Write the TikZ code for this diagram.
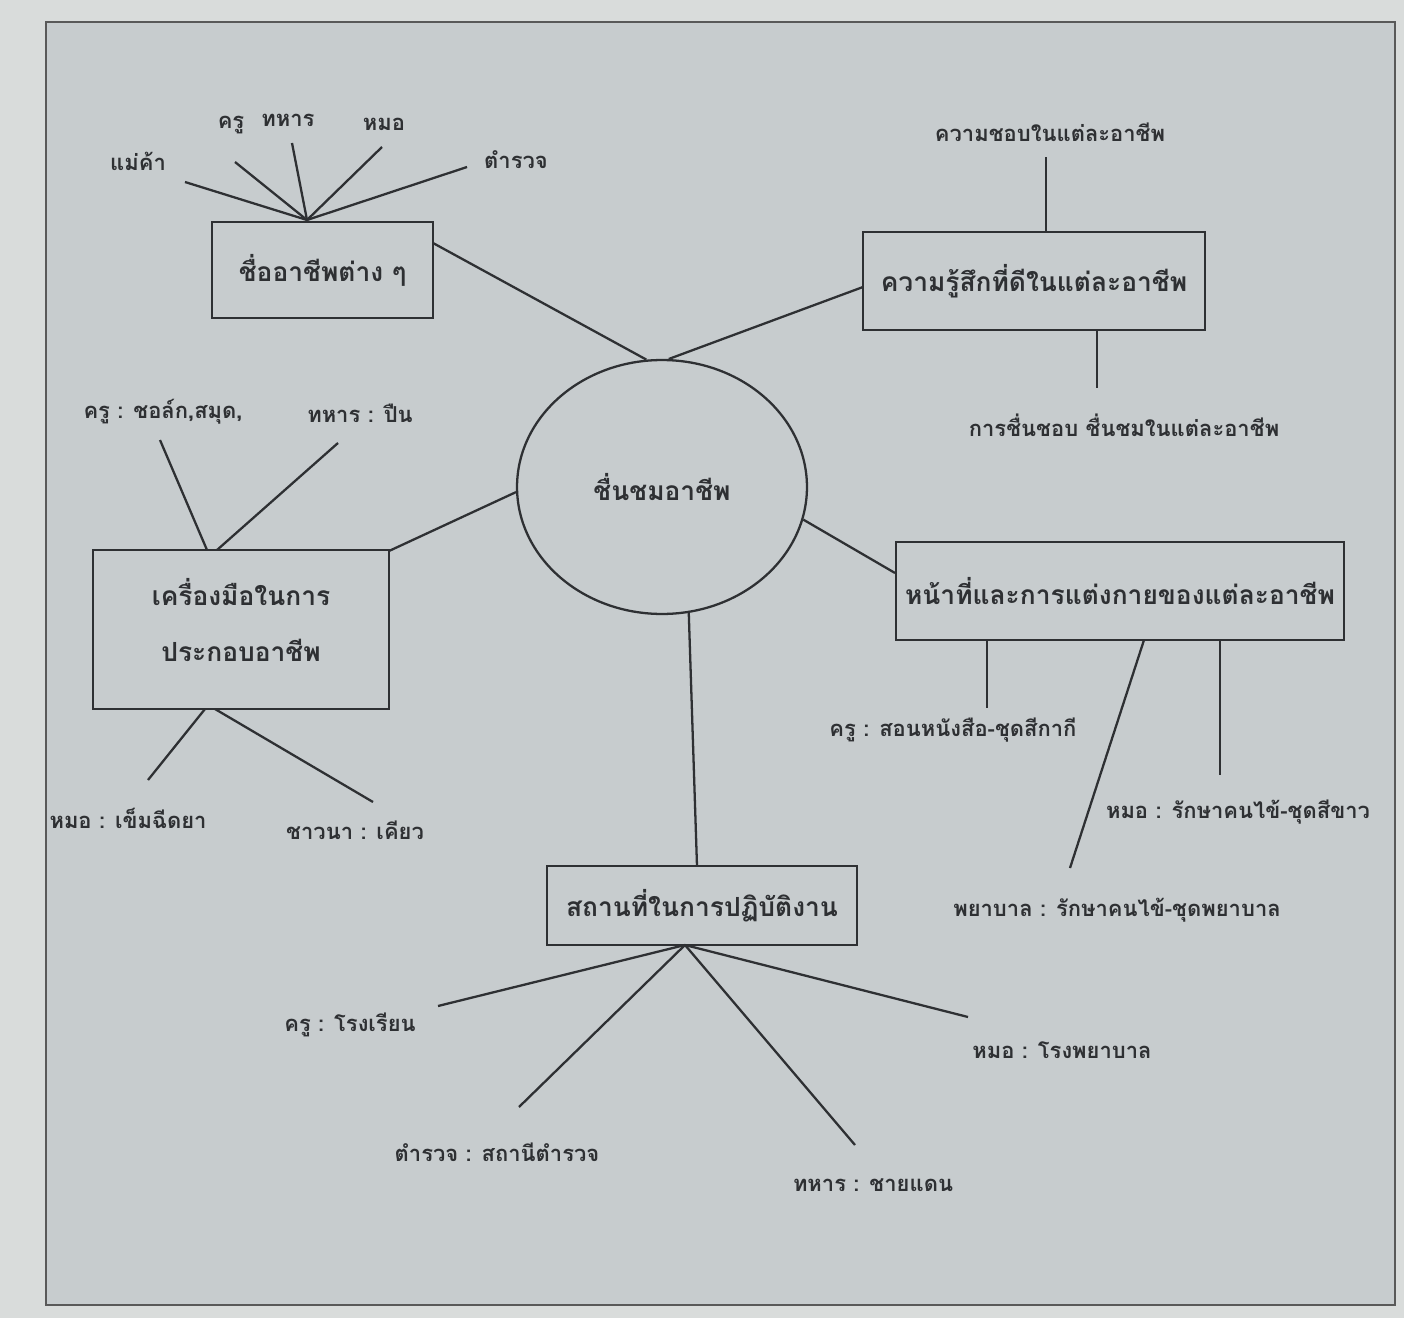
\documentclass[tikz,border=0pt]{standalone}
\usepackage{fontspec}
\newfontfamily\thai[Script=Thai]{Loma}
\usetikzlibrary{shapes.geometric}
\definecolor{paper}{HTML}{C7CCCE}
\definecolor{margin}{HTML}{D9DCDB}
\definecolor{ink}{HTML}{2E3033}
\begin{document}
\begin{tikzpicture}[x=0.02cm,y=-0.02cm,
  lk/.style={draw=ink,line width=1.3pt},
  boxnode/.style={draw=ink,line width=1.3pt,rectangle,inner sep=0pt,align=center,text=ink,font=\thai\bfseries\fontsize{15}{32}\selectfont},
  leaf/.style={inner sep=0pt,text=ink,font=\thai\bfseries\fontsize{12.5}{15}\selectfont}]
\useasboundingbox (0,0) rectangle (1404,1318);
\fill[margin] (0,0) rectangle (1404,1318);
\fill[paper,draw=gray!70!black,line width=0.8pt] (46,22) rectangle (1395,1305);

% centre
\node[ellipse,draw=ink,line width=1.3pt,minimum width=5.8cm,minimum height=5.08cm,inner sep=0pt,text=ink,font=\thai\bfseries\fontsize{15}{18}\selectfont] (c) at (662,487) {ชื่นชมอาชีพ};

% boxes
\node[boxnode,minimum width=4.42cm,minimum height=1.92cm] (b1) at (322.5,270) {ชื่ออาชีพต่าง ๆ};
\node[boxnode,minimum width=6.84cm,minimum height=1.96cm] (b2) at (1034,281) {ความรู้สึกที่ดีในแต่ละอาชีพ};
\node[boxnode,minimum width=5.92cm,minimum height=3.18cm] (b3) at (241,629.5) {};
\node[align=center,inner sep=0pt,text=ink,font=\thai\bfseries\fontsize{15}{32}\selectfont] (b3t) at (241,620) {เครื่องมือในการ\\ประกอบอาชีพ};
\node[boxnode,minimum width=8.96cm,minimum height=1.96cm] (b4) at (1120,591) {หน้าที่และการแต่งกายของแต่ละอาชีพ};
\node[boxnode,minimum width=6.2cm,minimum height=1.58cm] (b5) at (702,905.5) {สถานที่ในการปฏิบัติงาน};

% centre links
\coordinate (b1e) at (433,243);
\coordinate (b2w) at (863,287);
\coordinate (b3ne) at (389,551);
\coordinate (b4w) at (895,573);
\coordinate (b5n) at (697,866);
\draw[lk] (b1e) -- (c.97.6);
\draw[lk] (b2w) -- (c.87.7);
\draw[lk] (b3ne) -- (c.182);
\draw[lk] (b4w) -- (c.347);
\draw[lk] (b5n) -- (c.282);

% b1 leaves
\coordinate (f1) at (307,220);
\node[leaf] (l11) at (138,161) {แม่ค้า};
\node[leaf] (l12) at (231,125) {ครู};
\node[leaf] (l13) at (288,120) {ทหาร};
\node[leaf] (l14) at (384,124) {หมอ};
\node[leaf] (l15) at (516,160) {ตำรวจ};
\coordinate (e11) at (185,182);
\coordinate (e12) at (235,162);
\coordinate (e13) at (292,143);
\coordinate (e14) at (382,147);
\coordinate (e15) at (467,167);
\foreach \i in {11,12,13,14,15} \draw[lk] (f1) -- (e\i);

% b2 leaves
\node[leaf] (l21) at (1050,132) {ความชอบในแต่ละอาชีพ};
\node[leaf] (l22) at (1124,425) {การชื่นชอบ ชื่นชมในแต่ละอาชีพ};
\coordinate (s21) at (1046,232);
\coordinate (e21) at (1046,157);
\coordinate (s22) at (1097,330);
\coordinate (e22) at (1097,388);
\draw[lk] (s21) -- (e21);
\draw[lk] (s22) -- (e22);

% b3 leaves
\node[leaf] (l31) at (163,412) {ครู : ชอล์ก,สมุด,};
\node[leaf] (l32) at (360,413) {ทหาร : ปืน};
\node[leaf] (l33) at (128,818) {หมอ : เข็มฉีดยา};
\node[leaf] (l34) at (355,830) {ชาวนา : เคียว};
\coordinate (s31) at (207,550);
\coordinate (s32) at (217,550);
\coordinate (s33) at (205,709);
\coordinate (s34) at (215,709);
\coordinate (e31) at (160,440);
\coordinate (e32) at (338,443);
\coordinate (e33) at (148,780);
\coordinate (e34) at (373,802);
\foreach \i in {31,32,33,34} \draw[lk] (s\i) -- (e\i);

% b4 leaves
\node[leaf] (l41) at (953,730) {ครู : สอนหนังสือ-ชุดสีกากี};
\node[leaf] (l42) at (1117,910) {พยาบาล : รักษาคนไข้-ชุดพยาบาล};
\node[leaf] (l43) at (1238,812) {หมอ : รักษาคนไข้-ชุดสีขาว};
\coordinate (s41) at (987,640);
\coordinate (s42) at (1144,640);
\coordinate (s43) at (1220,640);
\coordinate (e41) at (987,708);
\coordinate (e42) at (1070,868);
\coordinate (e43) at (1220,775);
\foreach \i in {41,42,43} \draw[lk] (s\i) -- (e\i);

% b5 leaves
\coordinate (f5) at (685,945);
\node[leaf] (l51) at (350,1025) {ครู : โรงเรียน};
\node[leaf] (l52) at (497,1152) {ตำรวจ : สถานีตำรวจ};
\node[leaf] (l53) at (873,1185) {ทหาร : ชายแดน};
\node[leaf] (l54) at (1062,1050) {หมอ : โรงพยาบาล};
\coordinate (e51) at (438,1006);
\coordinate (e52) at (519,1107);
\coordinate (e53) at (855,1145);
\coordinate (e54) at (968,1017);
\foreach \i in {51,52,53,54} \draw[lk] (f5) -- (e\i);
\end{tikzpicture}
\end{document}
